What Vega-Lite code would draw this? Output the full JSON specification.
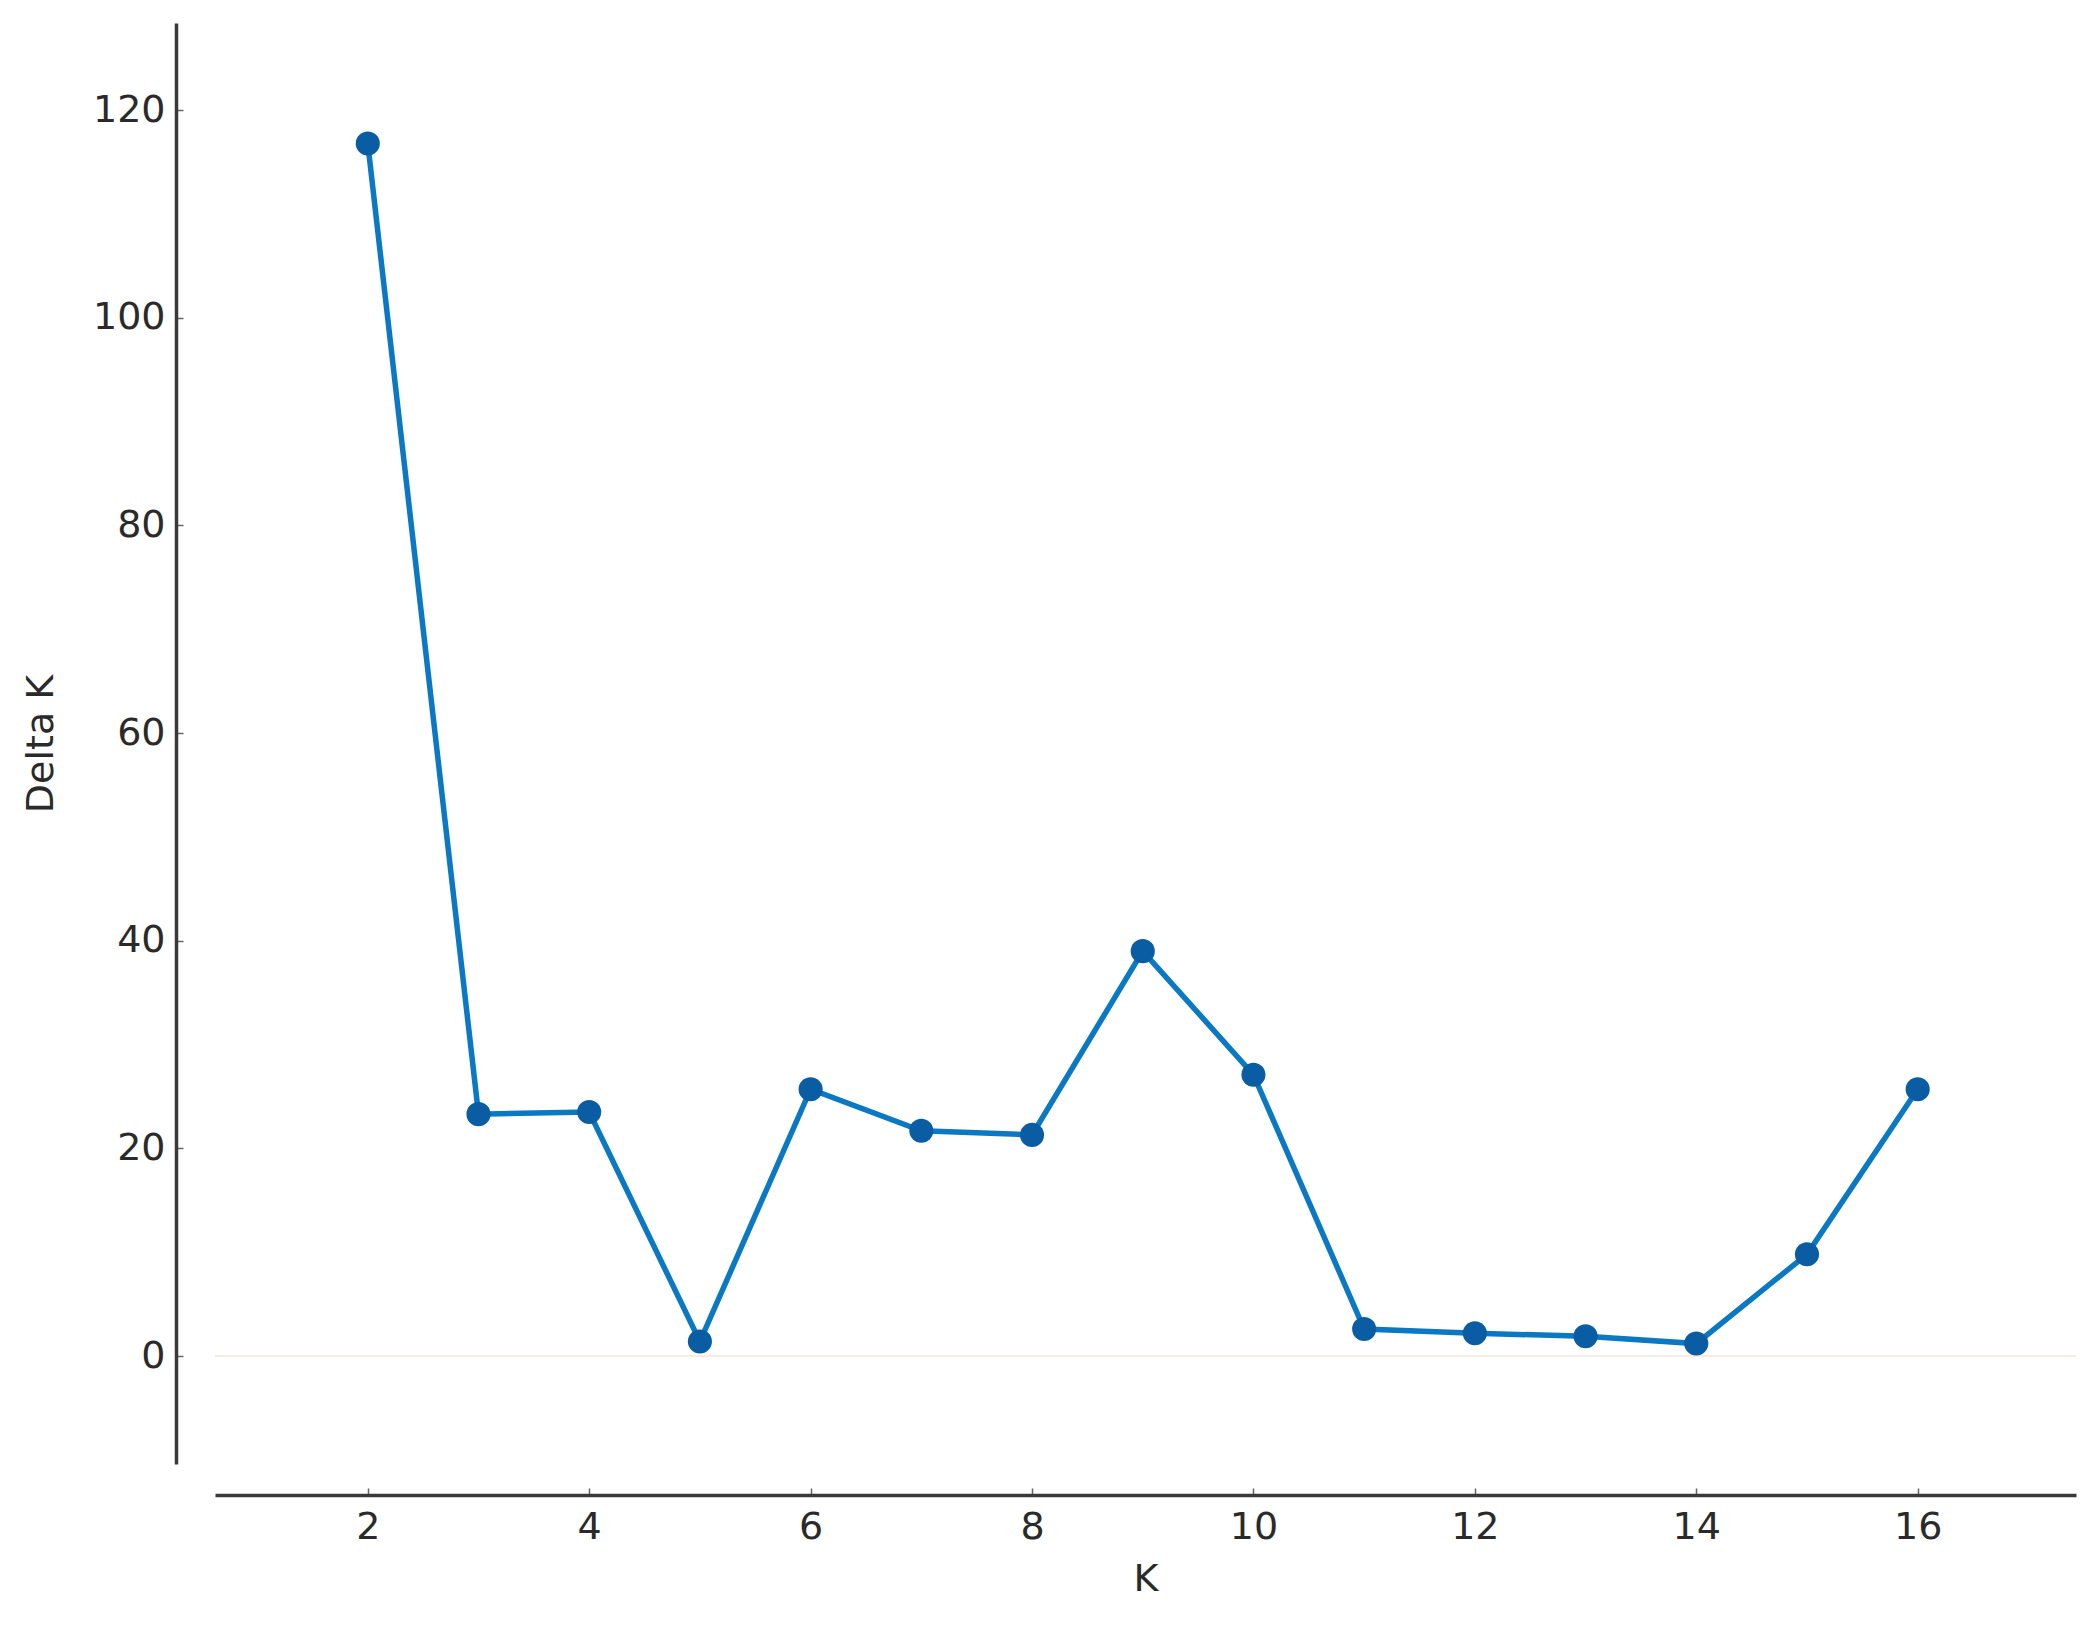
{
  "$schema": "https://vega.github.io/schema/vega-lite/v6.json",
  "width": 1861,
  "height": 1441,
  "autosize": {"type": "none"},
  "padding": {"left": 215, "top": 23, "right": 16, "bottom": 162},
  "background": "white",
  "config": {
    "view": {"stroke": null},
    "font": "DejaVu Sans",
    "axis": {
      "grid": false,
      "domainColor": "#3a3a3a",
      "domainWidth": 3.5,
      "tickColor": "#666666",
      "tickWidth": 1.5,
      "tickSize": -7,
      "labelFont": "DejaVu Sans",
      "labelFontSize": 38,
      "labelColor": "#2a2a2a",
      "titleFont": "DejaVu Sans",
      "titleFontSize": 38,
      "titleFontWeight": "normal",
      "titleColor": "#2a2a2a"
    }
  },
  "data": {
    "values": [
      {"K": 2, "DeltaK": 116.8},
      {"K": 3, "DeltaK": 23.3},
      {"K": 4, "DeltaK": 23.5},
      {"K": 5, "DeltaK": 1.4},
      {"K": 6, "DeltaK": 25.7},
      {"K": 7, "DeltaK": 21.7},
      {"K": 8, "DeltaK": 21.3},
      {"K": 9, "DeltaK": 39.0},
      {"K": 10, "DeltaK": 27.1},
      {"K": 11, "DeltaK": 2.6},
      {"K": 12, "DeltaK": 2.2},
      {"K": 13, "DeltaK": 1.9},
      {"K": 14, "DeltaK": 1.2},
      {"K": 15, "DeltaK": 9.8},
      {"K": 16, "DeltaK": 25.7}
    ]
  },
  "encoding": {
    "x": {
      "field": "K",
      "type": "quantitative",
      "title": "K",
      "scale": {"domain": [0.62, 17.43], "nice": false, "zero": false},
      "axis": {
        "values": [2, 4, 6, 8, 10, 12, 14, 16],
        "offset": 31,
        "labelPadding": 20,
        "titlePadding": 14
      }
    },
    "y": {
      "field": "DeltaK",
      "type": "quantitative",
      "title": "Delta K",
      "scale": {"domain": [-10.4, 128.4], "nice": false, "zero": false},
      "axis": {
        "values": [0, 20, 40, 60, 80, 100, 120],
        "offset": 39,
        "labelPadding": 18,
        "titlePadding": 32
      }
    }
  },
  "layer": [
    {
      "data": {"values": [{"zero": 0}]},
      "mark": {"type": "rule", "color": "#f6e4de", "strokeWidth": 1.5},
      "encoding": {
        "x": null,
        "y": {"field": "zero", "type": "quantitative"}
      }
    },
    {
      "mark": {"type": "line", "color": "#0a78c2", "strokeWidth": 5.5}
    },
    {
      "mark": {"type": "point", "filled": true, "color": "#0a5ca3", "opacity": 1, "size": 580}
    }
  ]
}
